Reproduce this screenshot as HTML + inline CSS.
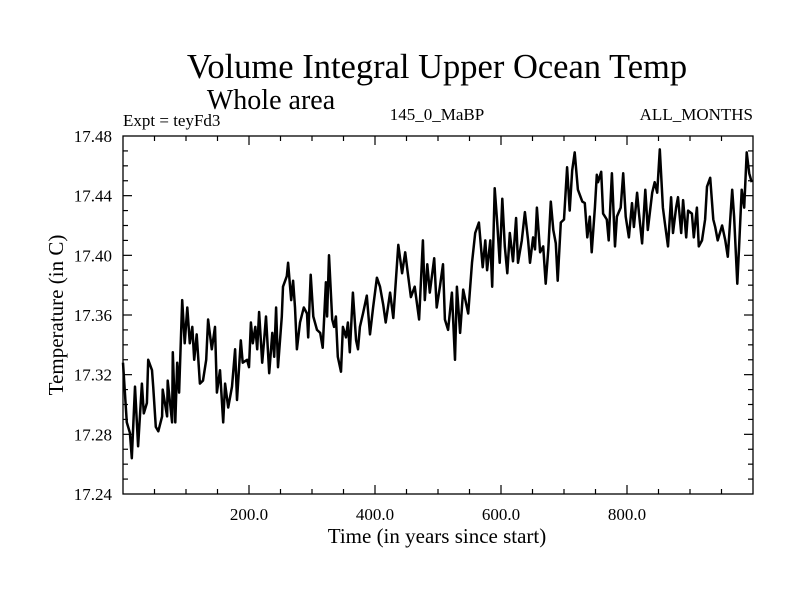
<!DOCTYPE html>
<html><head><meta charset="utf-8"><style>
body{margin:0;background:#fff;width:800px;height:600px;overflow:hidden}
svg text{font-family:"Liberation Serif",serif;fill:#000}
</style></head><body>
<svg id="chart" width="800" height="600" viewBox="0 0 800 600">
<text x="437" y="78" font-size="34.5" text-anchor="middle">Volume Integral Upper Ocean Temp</text>
<text x="271" y="109" font-size="28" text-anchor="middle">Whole area</text>
<text x="123" y="126" font-size="17">Expt = teyFd3</text>
<text x="437" y="120" font-size="17" text-anchor="middle">145_0_MaBP</text>
<text x="753" y="120" font-size="17" text-anchor="end">ALL_MONTHS</text>
<text x="437" y="543" font-size="21" text-anchor="middle">Time (in years since start)</text>
<text transform="translate(63,315) rotate(-90)" font-size="21" text-anchor="middle">Temperature (in C)</text>
<g id="axes"></g>
<path id="series" fill="none" stroke="#000" stroke-width="2.5" stroke-linejoin="round"/>
<rect x="123" y="136" width="630" height="358" fill="none" stroke="#000" stroke-width="1.3"/>
</svg>
<script>
const years=[0,6,11,14,19,24,30,33,38,40,46,48,52,56,62,63,70,71,78,79,83,86,89,94,98,102,106,110,113,117,122,127,132,135,141,146,149,154,159,162,167,173,178,181,187,190,197,200,203,206,210,213,216,221,224,227,232,237,240,243,246,252,254,260,262,267,270,273,276,281,287,292,294,298,302,308,313,317,322,324,327,332,335,338,341,346,349,354,357,360,365,370,373,376,381,387,392,397,403,408,413,417,424,429,437,443,448,452,457,463,470,476,479,483,487,494,498,503,508,511,516,522,527,530,535,540,548,554,559,565,571,575,578,583,586,590,594,598,602,606,610,614,619,624,627,633,638,643,646,651,654,657,662,667,671,675,679,683,687,690,695,700,705,709,713,717,722,729,733,737,741,744,749,752,754,759,762,768,771,776,781,784,790,794,798,803,808,811,816,819,824,829,833,840,844,848,852,857,860,865,870,873,878,881,886,889,894,897,903,906,911,914,919,924,927,932,937,940,944,951,956,960,967,970,975,978,982,986,990,994,998];
const temps=[17.328,17.288,17.281,17.264,17.312,17.272,17.314,17.294,17.301,17.330,17.323,17.312,17.285,17.282,17.292,17.310,17.292,17.316,17.288,17.335,17.288,17.328,17.308,17.370,17.341,17.365,17.341,17.352,17.330,17.347,17.314,17.316,17.330,17.357,17.337,17.352,17.308,17.323,17.288,17.314,17.298,17.312,17.337,17.303,17.343,17.328,17.330,17.325,17.355,17.341,17.352,17.337,17.362,17.328,17.343,17.359,17.321,17.348,17.332,17.365,17.325,17.359,17.379,17.386,17.395,17.370,17.383,17.365,17.337,17.355,17.365,17.361,17.345,17.387,17.359,17.350,17.348,17.338,17.382,17.359,17.400,17.357,17.352,17.359,17.332,17.322,17.352,17.345,17.355,17.335,17.375,17.343,17.337,17.352,17.361,17.373,17.347,17.365,17.385,17.379,17.367,17.355,17.375,17.358,17.407,17.388,17.402,17.388,17.372,17.379,17.357,17.410,17.370,17.394,17.375,17.398,17.365,17.379,17.394,17.357,17.350,17.375,17.330,17.379,17.348,17.377,17.361,17.395,17.415,17.422,17.392,17.410,17.390,17.410,17.379,17.445,17.422,17.395,17.438,17.406,17.388,17.415,17.396,17.425,17.395,17.410,17.429,17.410,17.395,17.412,17.404,17.432,17.402,17.406,17.381,17.404,17.436,17.417,17.408,17.383,17.422,17.424,17.459,17.430,17.457,17.469,17.444,17.436,17.435,17.412,17.426,17.402,17.432,17.454,17.449,17.456,17.428,17.424,17.410,17.455,17.406,17.426,17.432,17.455,17.426,17.412,17.435,17.419,17.442,17.428,17.408,17.444,17.417,17.442,17.449,17.442,17.471,17.432,17.422,17.406,17.439,17.415,17.432,17.439,17.415,17.437,17.412,17.430,17.428,17.412,17.432,17.406,17.410,17.424,17.446,17.452,17.424,17.419,17.410,17.420,17.410,17.399,17.444,17.426,17.381,17.406,17.444,17.432,17.469,17.455,17.449];
const xTickLabels=["200.0","400.0","600.0","800.0"];
const xTickValues=[200,400,600,800];
const yTickLabels=["17.24","17.28","17.32","17.36","17.40","17.44","17.48"];
const yTickValues=[17.24,17.28,17.32,17.36,17.40,17.44,17.48];

const X0=123,X1=753,Y0=494,Y1=136,XMIN=0,XMAX=1000,YMIN=17.24,YMAX=17.48;
function sx(v){return X0+(v-XMIN)/(XMAX-XMIN)*(X1-X0);}
function sy(v){return Y0-(v-YMIN)/(YMAX-YMIN)*(Y0-Y1);}
const NS="http://www.w3.org/2000/svg";
const axes=document.getElementById('axes');
function line(x1,y1,x2,y2,name){
  const l=document.createElementNS(NS,'line');
  l.setAttribute('x1',x1);l.setAttribute('y1',y1);l.setAttribute('x2',x2);l.setAttribute('y2',y2);
  l.setAttribute('stroke','#000');l.setAttribute('stroke-width','1.2');
  
  
  axes.appendChild(l);
}
for(let v=50;v<1000;v+=50){
  const x=sx(v),len=(v%200===0)?9:5;
  line(x,Y0,x,Y0-len,'x-tick');
  line(x,Y1,x,Y1+len,'x-tick-top');
}
for(let i=1;i<24;i++){
  const v=YMIN+i*0.01,y=sy(v),len=(i%4===0)?9:5;
  line(X0,y,X0+len,y,'y-tick');
  line(X1,y,X1-len,y,'y-tick-right');
}
xTickValues.forEach((v,i)=>{
  const t=document.createElementNS(NS,'text');
  t.setAttribute('x',sx(v));t.setAttribute('y',Y0+26);t.setAttribute('font-size','17');t.setAttribute('text-anchor','middle');
  t.textContent=xTickLabels[i];
  
  
  axes.appendChild(t);
});
yTickValues.forEach((v,i)=>{
  const t=document.createElementNS(NS,'text');
  t.setAttribute('x',X0-11);t.setAttribute('y',sy(v)+6);t.setAttribute('font-size','17');t.setAttribute('text-anchor','end');
  t.textContent=yTickLabels[i];
  
  
  axes.appendChild(t);
});
let d='';
years.forEach((yr,i)=>{d+=(i?'L':'M')+sx(yr).toFixed(1)+','+sy(temps[i]).toFixed(1);});
document.getElementById('series').setAttribute('d',d);
</script>
</body></html>
